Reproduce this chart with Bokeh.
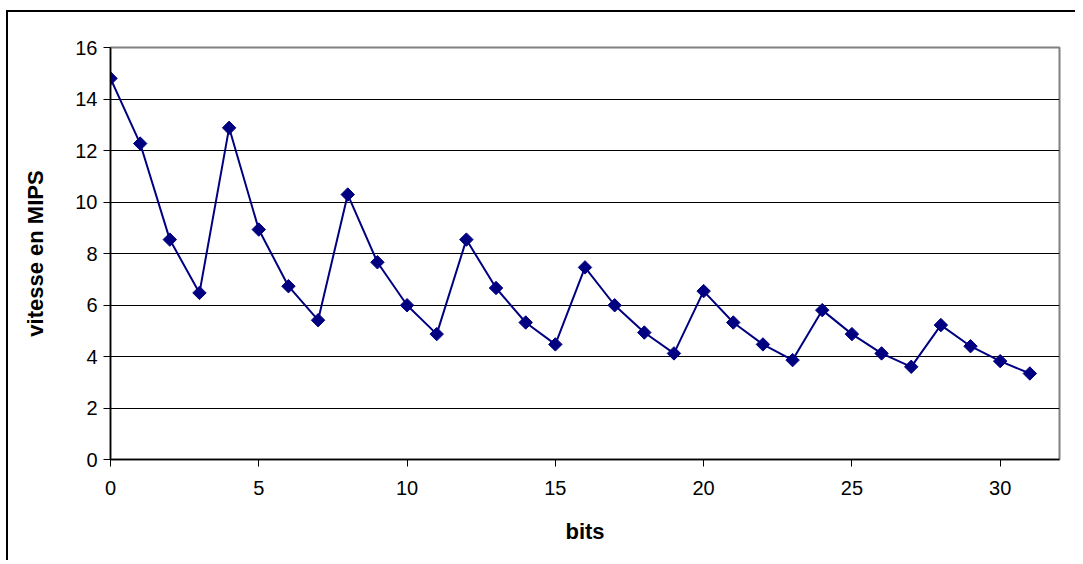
import math
from bokeh.plotting import figure
from bokeh.models import Range1d, FixedTicker
from bokeh.embed import file_html
from bokeh.resources import INLINE

bits = list(range(32))
mips = [14.80, 12.27, 8.54, 6.47, 12.88, 8.93, 6.73, 5.41,
        10.29, 7.66, 5.99, 4.87, 8.54, 6.66, 5.32, 4.47,
        7.46, 5.99, 4.93, 4.12, 6.54, 5.32, 4.47, 3.86,
        5.80, 4.87, 4.12, 3.60, 5.22, 4.40, 3.82, 3.34]
x_ticks = [0, 5, 10, 15, 20, 25, 30]
y_ticks = [0, 2, 4, 6, 8, 10, 12, 14, 16]

FONT = "Liberation Sans"
NAVY = "#000080"

p = figure(frame_width=949, frame_height=412,
           min_border_left=102, min_border_right=16,
           min_border_top=35, min_border_bottom=101,
           x_range=Range1d(0, 32), y_range=Range1d(0, 16),
           output_backend="svg", toolbar_location=None,
           background_fill_color="white", border_fill_color="white")

p.styles = {"border-left": "2px solid black", "border-top": "2px solid black",
            "position": "relative", "left": "6px", "top": "10px"}

p.outline_line_color = "#808080"
p.outline_line_width = 2

p.xgrid.grid_line_color = None
p.ygrid.grid_line_color = "black"
p.ygrid.grid_line_width = 1

p.xaxis.ticker = FixedTicker(ticks=x_ticks)
p.yaxis.ticker = FixedTicker(ticks=y_ticks)
for ax in (p.xaxis[0], p.yaxis[0]):
    ax.axis_line_color = "black"
    ax.axis_line_width = 1.5
    ax.major_tick_line_color = "black"
    ax.major_tick_in = 0
    ax.major_tick_out = 7
    ax.minor_tick_line_color = None
    ax.major_label_text_font = FONT
    ax.major_label_text_font_size = "20px"
    ax.major_label_text_color = "black"
    ax.axis_label_text_font = FONT
    ax.axis_label_text_font_size = "22px"
    ax.axis_label_text_font_style = "bold"
    ax.axis_label_text_color = "black"

p.xaxis.axis_label = "bits"
p.yaxis.axis_label = "vitesse en MIPS"
p.xaxis.major_label_standoff = 14
p.xaxis.axis_label_standoff = 21
p.yaxis.major_label_standoff = 6
p.yaxis.axis_label_standoff = 24

p.line(bits, mips, line_color=NAVY, line_width=2)
p.scatter(bits, mips, marker="square", size=9.5, angle=math.pi / 4,
          fill_color=NAVY, line_color=NAVY)

open("out.html", "w").write(file_html(p, INLINE))
